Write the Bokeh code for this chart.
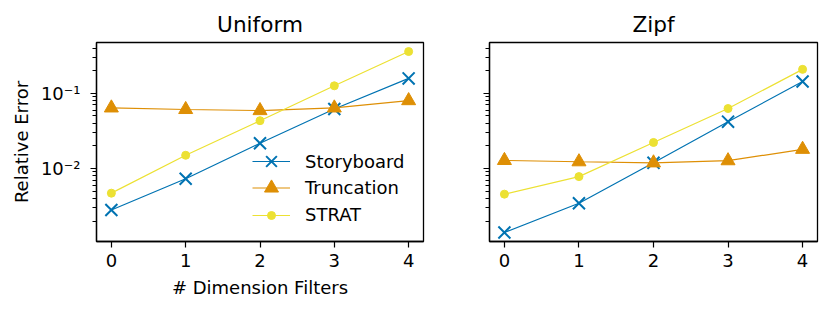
from bokeh.plotting import figure
from bokeh.layouts import row
from bokeh.models import FixedTicker, Range1d, Legend, LegendItem
from bokeh.embed import file_html
from bokeh.resources import INLINE
import numpy as np

# ---- data ----
x_filters = [0, 1, 2, 3, 4]
uniform_storyboard = [0.0028, 0.0073, 0.0217, 0.062, 0.158]
uniform_truncation = [0.064, 0.061, 0.059, 0.064, 0.080]
uniform_strat = [0.0047, 0.0150, 0.0433, 0.126, 0.360]
zipf_storyboard = [0.00141, 0.00345, 0.0119, 0.042, 0.1435]
zipf_truncation = [0.0128, 0.0123, 0.0119, 0.0127, 0.0180]
zipf_strat = [0.00456, 0.0078, 0.0222, 0.0628, 0.2085]

series_names = ["Storyboard", "Truncation", "STRAT"]
series_colors = ["#0173B2", "#DE8F05", "#ECE133"]
series_markers = ["x", "triangle", "circle"]
series_sizes = [17, 14, 8]

x_ticks = [0, 1, 2, 3, 4]
y_major = [0.001, 0.01, 0.1, 1.0]
y_minor = [m * d for d in (0.001, 0.01, 0.1) for m in range(2, 10)]
y_labels = {0.1: "10⁻¹", 0.01: "10⁻²", 0.001: "10⁻³"}

FONT = "DejaVu Sans"
TEXT_PX = "18px"
TITLE_PX = "21.6px"

# shared log y range with 5% margins (like matplotlib autoscale)
all_vals = np.array(uniform_storyboard + uniform_truncation + uniform_strat +
                    zipf_storyboard + zipf_truncation + zipf_strat)
lo, hi = np.log10(all_vals.min()), np.log10(all_vals.max())
pad = 0.05 * (hi - lo)
y_range = Range1d(10 ** (lo - pad), 10 ** (hi + pad))
xpad = 0.05 * (max(x_filters) - min(x_filters))

# legend layout (screen units inside the frame)
legend_x = 156
legend_row_centers = [80, 53, 26.5]   # distance of each row centre above frame bottom


def make_panel(title, data, width, border_left, border_right, show_labels, show_legend):
    p = figure(width=width, height=305, y_axis_type="log", title=title,
               output_backend="svg", toolbar_location=None,
               x_range=Range1d(min(x_filters) - xpad, max(x_filters) + xpad),
               y_range=y_range,
               min_border_left=border_left, min_border_right=border_right,
               min_border_top=42, min_border_bottom=64)
    p.title.text_font = FONT
    p.title.text_font_size = TITLE_PX
    p.title.text_font_style = "normal"
    p.title.align = "center"
    p.title.text_color = "black"
    p.title.standoff = 11
    p.grid.visible = False
    p.outline_line_color = "black"
    p.outline_line_width = 1.3
    p.outline_line_alpha = 1
    p.background_fill_color = "white"
    p.border_fill_color = "white"

    p.xaxis.ticker = FixedTicker(ticks=x_ticks)
    p.yaxis.ticker = FixedTicker(ticks=y_major, minor_ticks=y_minor)
    for ax in (p.xaxis, p.yaxis):
        ax.axis_line_color = "black"
        ax.axis_line_width = 1.3
        ax.major_tick_line_color = "black"
        ax.minor_tick_line_color = "black"
        ax.major_tick_line_width = 1.2
        ax.minor_tick_line_width = 1
        ax.major_tick_out = 6
        ax.major_tick_in = 0
        ax.minor_tick_out = 4
        ax.minor_tick_in = 0
        ax.major_label_text_font = FONT
        ax.major_label_text_font_size = TEXT_PX
        ax.major_label_text_color = "black"
        ax.major_label_standoff = 6
        ax.axis_label_text_font = FONT
        ax.axis_label_text_font_size = TEXT_PX
        ax.axis_label_text_font_style = "normal"
        ax.axis_label_text_color = "black"
    p.xaxis.minor_tick_line_color = None
    p.yaxis.major_label_standoff = 10

    if show_labels:
        p.yaxis.major_label_overrides = y_labels
        p.xaxis.axis_label = "# Dimension Filters"
        p.yaxis.axis_label = "Relative Error"
        p.xaxis.axis_label_standoff = 7
        p.yaxis.axis_label_standoff = 6
    else:
        p.yaxis.major_label_overrides = {v: "" for v in y_major}

    entries = []
    for name, vals, color, marker, size in zip(series_names, data, series_colors,
                                               series_markers, series_sizes):
        r1 = p.line(x_filters, vals, line_color=color, line_width=1.2)
        if marker == "x":
            r2 = p.scatter(x_filters, vals, marker="x", size=size, line_color=color,
                           line_width=2)
        else:
            r2 = p.scatter(x_filters, vals, marker=marker, size=size, fill_color=color,
                           line_color=color, line_width=1)
        entries.append((name, [r1, r2], size))

    if show_legend:
        for (name, rends, size), yc in zip(entries, legend_row_centers):
            gh = int(round(size / 0.4))  # legend marker size = 0.4 * min(glyph w, h)
            legend = Legend(items=[LegendItem(label=name, renderers=rends)],
                            location=(legend_x, int(round(yc - gh / 2))))
            legend.label_text_font = FONT
            legend.label_text_font_size = TEXT_PX
            legend.label_text_color = "black"
            legend.glyph_width = 38
            legend.glyph_height = gh
            legend.label_height = gh
            legend.label_standoff = 15
            legend.spacing = 0
            legend.padding = 0
            legend.margin = 0
            legend.border_line_alpha = 0
            legend.background_fill_alpha = 0
            p.add_layout(legend, "center")
    return p


p1 = make_panel("Uniform", [uniform_storyboard, uniform_truncation, uniform_strat],
                433, 96, 10, True, True)
p2 = make_panel("Zipf", [zipf_storyboard, zipf_truncation, zipf_strat],
                389, 56, 5, False, False)

layout = row(p1, p2)
open("out.html", "w").write(file_html(layout, INLINE))
